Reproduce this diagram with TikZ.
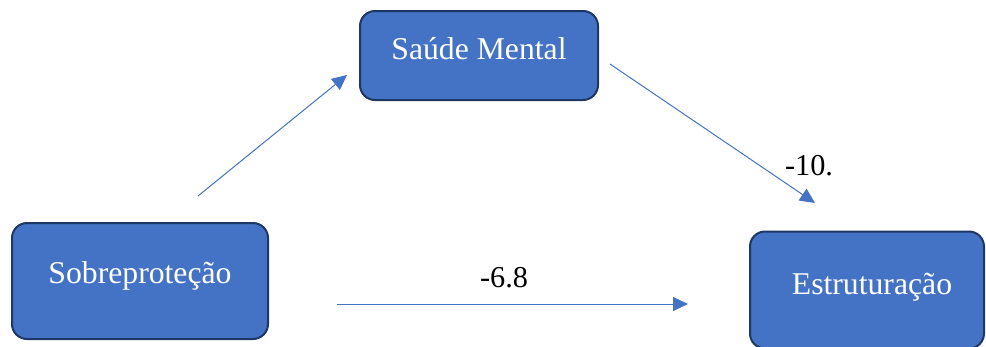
\documentclass[tikz,border=0pt]{standalone}
\usepackage{fontspec}
\setmainfont{Liberation Serif}
\usetikzlibrary{arrows.meta}
\definecolor{boxblue}{HTML}{4472C4}
\definecolor{boxedge}{HTML}{1F3763}
\begin{document}
\begin{tikzpicture}[x=1pt,y=-1pt,
  varbox/.style={draw=boxedge, line width=2pt, fill=boxblue, rounded corners=15pt, inner sep=0pt},
  boxtext/.style={text=white, font=\fontsize{31.7}{36}\selectfont, anchor=base, inner sep=0pt},
  coef/.style={text=black, font=\fontsize{30.3}{34}\selectfont, anchor=base, inner sep=0pt},
  path/.style={draw=boxblue, line width=1pt, -{Triangle[length=15pt,width=14pt]}}]
\useasboundingbox (0,0) rectangle (986,346);
\clip (0,0) rectangle (986,346);
\node[varbox, minimum width=238pt, minimum height=89pt] (saude) at (479,55.5) {};
\node[varbox, minimum width=256pt, minimum height=116pt] (sobre) at (140,281) {};
\node[varbox, minimum width=234pt, minimum height=117pt] (estru) at (867,290) {};
\node[boxtext] (tsaude) at (479,59.5) {Saúde Mental};
\node[boxtext] (tsobre) at (140,283) {Sobreproteção};
\node[boxtext] (testru) at (872,294) {Estruturação};
\node[coef] (c10) at (809,175) {-10.};
\node[coef] (c68) at (504,287) {-6.8};
\coordinate (a1s) at (198,196);
\coordinate (a1e) at (347,75);
\coordinate (a2s) at (610,64);
\coordinate (a2e) at (815,203);
\coordinate (a3s) at (337,304);
\coordinate (a3e) at (688,304);
\draw[path] (a1s) -- (a1e);
\draw[path] (a2s) -- (a2e);
\draw[path] (a3s) -- (a3e);
\end{tikzpicture}
\end{document}
